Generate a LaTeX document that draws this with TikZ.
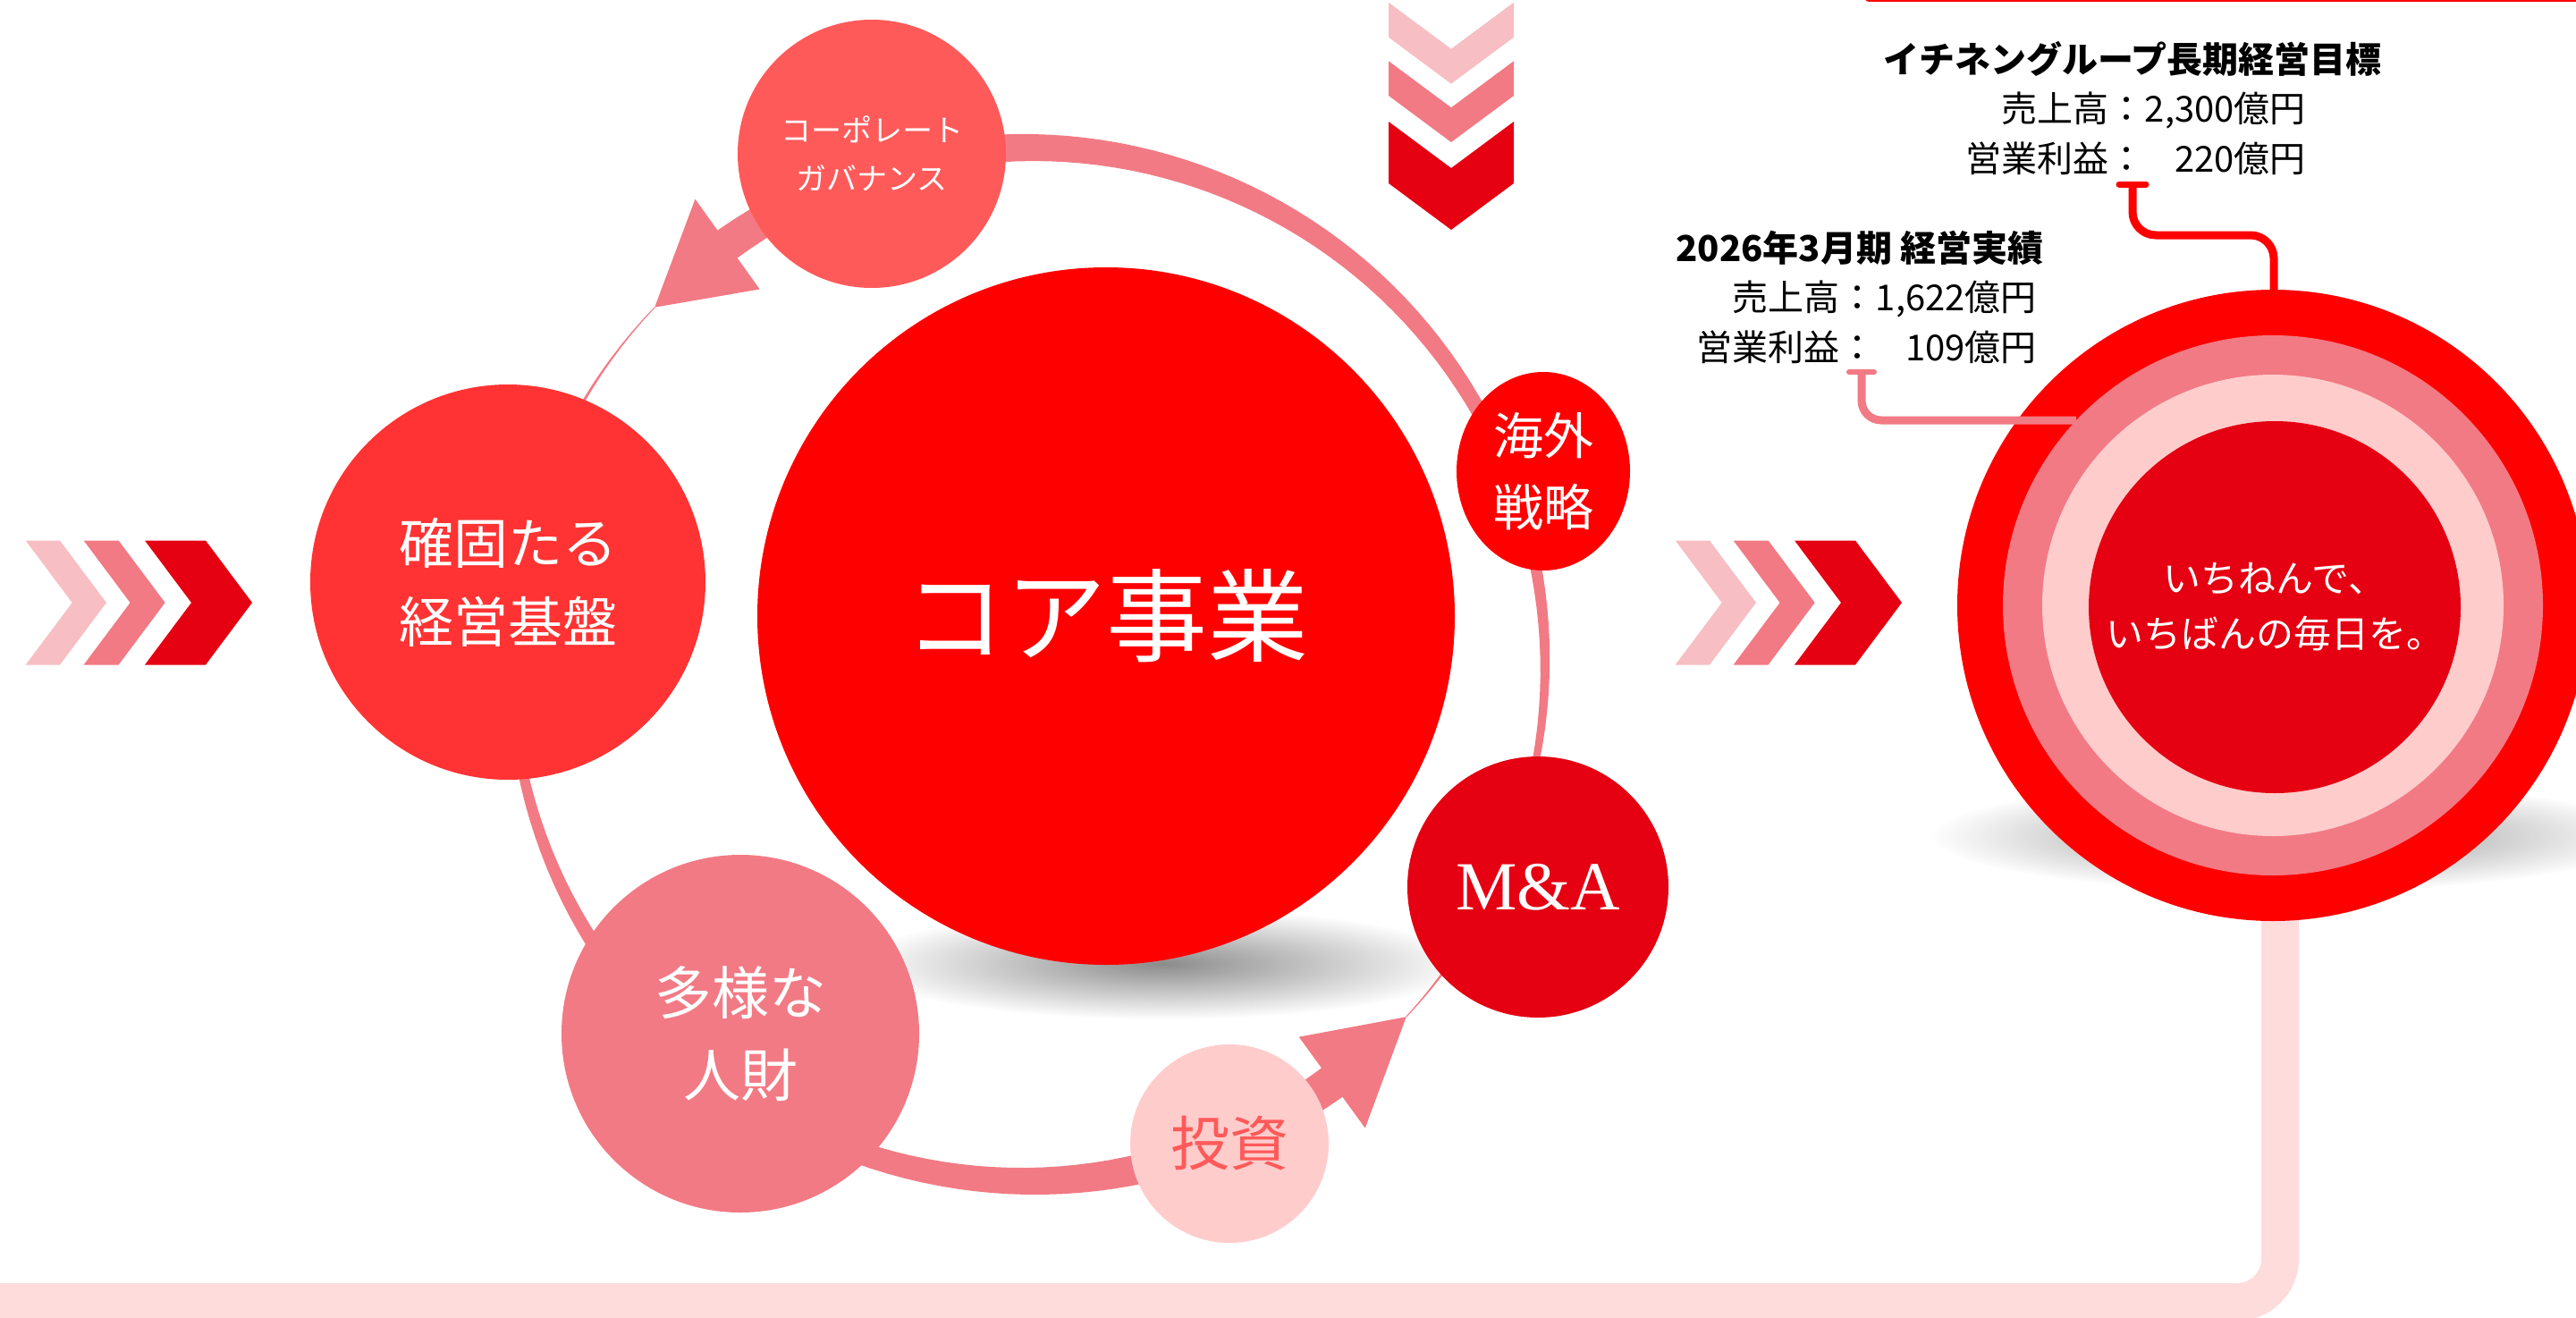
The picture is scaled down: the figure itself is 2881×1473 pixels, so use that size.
\documentclass[tikz,border=0pt]{standalone}
\usepackage{fontspec}
\setmainfont{Liberation Serif}
\newfontfamily\jp{Noto Sans CJK JP}
\usetikzlibrary{fadings,shapes.geometric}
\definecolor{corered}{HTML}{FF0000}
\definecolor{darkred}{HTML}{E50012}
\definecolor{govred}{HTML}{FF5A5A}
\definecolor{basered}{HTML}{FF3333}
\definecolor{ringpink}{HTML}{F27A84}
\definecolor{lightpink}{HTML}{FFCCCC}
\definecolor{chevlight}{HTML}{F7BFC3}
\definecolor{bandpink}{HTML}{FFDCDC}
\tikzfading[name=softshadow, inner color=transparent!0, outer color=transparent!100]
\begin{document}
\begin{tikzpicture}[x=1pt,y=-1pt,
  bubble/.style={circle, inner sep=0pt, align=center, text=white},
  disc/.style={circle, inner sep=0pt},
  declare function={
    wA(\x)=1+39*((\x-136.3)/169.7)*(0.5+0.5*sqrt(max(0,(\x-136.3)/169.7)));
    wB(\x)=1+37*(\x+43)/168.6;
  }]
\useasboundingbox (0,0) rectangle (2881,1473);
\fill[white] (0,0) rectangle (2881,1473);
\clip (0,0) rectangle (2881,1473);

% bottom band
\coordinate (bandtop) at (2550,900);
\coordinate (bandend) at (-20,1456);
\draw[bandpink, line width=42pt, rounded corners=48pt] (bandtop) |- (bandend);

% connector 1 (long-term goal -> circle)
\coordinate (goalT) at (2385,206);
\coordinate (outertop) at (2543,340);
\draw[corered, line width=7pt, line cap=round] ([xshift=-15pt]goalT) -- ([xshift=15pt]goalT);
\draw[corered, line width=9pt, rounded corners=26pt] (goalT) |- ([yshift=77pt]outertop) -- (outertop);

% shadows
\fill[black!45, path fading=softshadow] (1300,1078) ellipse (340 and 62);
\fill[black!45, path fading=softshadow] (2560,935) ellipse (400 and 62);

% tapered ring arrow A (left/bottom, pointing to M&A)
\fill[ringpink]
  plot[domain=136.3:306, samples=90, variable=\t] ({1150+(578+wA(\t)/2)*cos(\t)},{743-(578+wA(\t)/2)*sin(\t)})
  -- ({1150+641*cos(306)},{743-641*sin(306)})
  -- ({1150+578*cos(317)},{743-578*sin(317)})
  -- ({1150+515*cos(306)},{743-515*sin(306)})
  -- plot[domain=306:136.3, samples=90, variable=\t] ({1150+(578-wA(\t)/2)*cos(\t)},{743-(578-wA(\t)/2)*sin(\t)})
  -- cycle;
% tapered ring arrow B (right/top, pointing to left)
\fill[ringpink]
  plot[domain=-43:125.6, samples=90, variable=\t] ({1150+(578+wB(\t)/2)*cos(\t)},{743-(578+wB(\t)/2)*sin(\t)})
  -- ({1150+640*cos(125.6)},{743-640*sin(125.6)})
  -- ({1150+578*cos(136.3)},{743-578*sin(136.3)})
  -- ({1150+516*cos(125.6)},{743-516*sin(125.6)})
  -- plot[domain=125.6:-43, samples=90, variable=\t] ({1150+(578-wB(\t)/2)*cos(\t)},{743-(578-wB(\t)/2)*sin(\t)})
  -- cycle;

% circles of the cycle
\node[bubble, fill=corered, minimum size=780pt, font=\jp\fontsize{113}{113}\selectfont] (core) at (1237,689) {コア事業};
\node[bubble, fill=govred, minimum size=300pt, font=\jp\fontsize{34}{54}\selectfont] (gov) at (975,172) {コーポレート\\ガバナンス};
\node[bubble, fill=basered, minimum size=442pt, font=\jp\fontsize{61}{88}\selectfont] (base) at (568,651) {確固たる\\経営基盤};
\node[bubble, fill=ringpink, minimum size=400pt, font=\jp\fontsize{64}{92}\selectfont] (talent) at (828,1156) {多様な\\人財};
\node[bubble, fill=lightpink, text=govred, minimum size=222pt, font=\jp\fontsize{66}{66}\selectfont] (invest) at (1375,1279) {投資};
\node[bubble, fill=darkred, minimum size=292pt, font=\fontsize{77}{77}\selectfont] (ma) at (1720,992) {M\&A};
\node[ellipse, inner sep=0pt, align=center, text=white, fill=corered, minimum width=194pt, minimum height=222pt, font=\jp\fontsize{56}{80}\selectfont] (global) at (1726,527) {海外\\戦略};

% right target circle
\node[disc, fill=corered, minimum size=706pt] (outer) at (2542,677) {};
\coordinate (goalL) at (2082,416);
\coordinate (ring2w) at (2322,470);
\draw[ringpink, line width=6pt, line cap=round] ([xshift=-14pt]goalL) -- ([xshift=14pt]goalL);
\draw[ringpink, line width=9pt, rounded corners=22pt] (goalL) |- (ring2w);
\node[disc, fill=ringpink, minimum size=604pt] (ring2) at (2542,677) {};
\node[disc, fill=lightpink, minimum size=516pt] (ring3) at (2542,677) {};
\node[bubble, fill=darkred, minimum size=416pt, font=\jp\fontsize{42}{62}\selectfont] (motto) at (2544,679) {いちねんで、\\いちばんの毎日を。};

% text blocks
\node[font=\jp\bfseries\fontsize{40}{40}\selectfont, inner sep=0pt] (goaltitle) at (2385,66) {イチネングループ長期経営目標};
\node[font=\jp\fontsize{40}{56}\selectfont, inner sep=0pt, anchor=east] (goalvals) at (2579,153)
  {\begin{tabular}{@{}r@{}r@{}}売上高：&2,300億円\\営業利益：&220億円\end{tabular}};
\node[font=\jp\bfseries\fontsize{40}{40}\selectfont, inner sep=0pt] (restitle) at (2080,277) {2026年3月期 経営実績};
\node[font=\jp\fontsize{40}{56}\selectfont, inner sep=0pt, anchor=east] (resvals) at (2278,364)
  {\begin{tabular}{@{}r@{}r@{}}売上高：&1,622億円\\営業利益：&109億円\end{tabular}};

% top red line
\coordinate (topline) at (2090,-2);
\draw[corered, line width=8pt, line cap=round] (topline) -- ++(900,0);

% horizontal chevrons (left and middle)
\foreach \dx in {0,1845}{
  \fill[chevlight] (28.7+\dx,604.5) -- (67+\dx,604.5) -- (119+\dx,674) -- (67+\dx,743.5) -- (28.7+\dx,743.5) -- (80.7+\dx,674) -- cycle;
  \fill[ringpink] (93.6+\dx,604.5) -- (132.6+\dx,604.5) -- (184.6+\dx,674) -- (132.6+\dx,743.5) -- (93.6+\dx,743.5) -- (145.6+\dx,674) -- cycle;
  \fill[darkred] (162+\dx,604.5) -- (230+\dx,604.5) -- (282+\dx,674) -- (230+\dx,743.5) -- (162+\dx,743.5) -- (214+\dx,674) -- cycle;
}
% vertical chevrons (top)
\fill[chevlight] (1553,2.7) -- (1623,54.7) -- (1693,2.7) -- (1693,41.7) -- (1623,93.7) -- (1553,41.7) -- cycle;
\fill[ringpink] (1553,68.3) -- (1623,120.3) -- (1693,68.3) -- (1693,107) -- (1623,159) -- (1553,107) -- cycle;
\fill[darkred] (1553,136) -- (1623,188) -- (1693,136) -- (1693,205) -- (1623,257) -- (1553,205) -- cycle;
\end{tikzpicture}
\end{document}
